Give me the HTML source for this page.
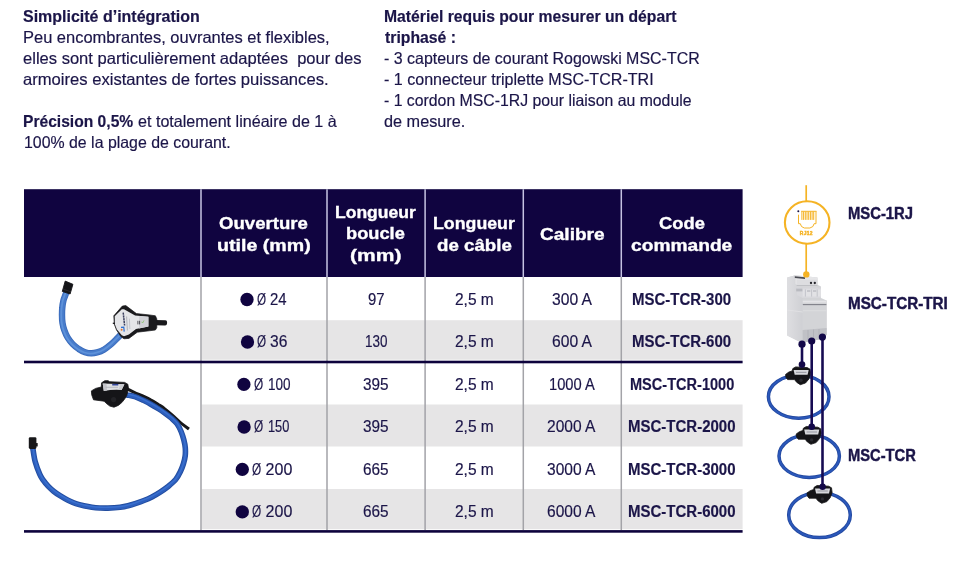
<!DOCTYPE html>
<html lang="fr">
<head>
<meta charset="utf-8">
<title>MSC-TCR</title>
<style>
html,body{margin:0;padding:0;background:#fff;}
body{width:974px;height:565px;position:relative;overflow:hidden;font-family:"Liberation Sans",sans-serif;color:#1b1548;}
.t{-webkit-text-stroke:0.18px #1b1548;position:absolute;white-space:nowrap;transform-origin:0 50%;line-height:20px;height:20px;}
.b{font-weight:bold;}
.d{-webkit-text-stroke:0.45px #1b1548;}
.w{color:#fff;-webkit-text-stroke:0.35px #fff;}
.box{position:absolute;}
.dot{position:absolute;width:13.4px;height:13.4px;border-radius:50%;background:#100440;}
</style>
</head>
<body>
<svg class="box" style="left:0;top:0;" width="974" height="565" viewBox="0 0 974 565">
<rect x="24" y="189.2" width="718.6" height="87.8" fill="#100440"/>
<g fill="#e6e5e6">
<rect x="201.6" y="320.2" width="541" height="39.5"/>
<rect x="201.6" y="404.5" width="541" height="42"/>
<rect x="201.6" y="489" width="541" height="40.2"/>
</g>
<g stroke="#c6c3e2" stroke-width="1.5"><path d="M201,189.2V277M327,189.2V277M425.1,189.2V277M523.3,189.2V277M621.3,189.2V277"/></g>
<g stroke="#a3a3a8" stroke-width="1.5"><path d="M201,277V530M327,277V530M425.1,277V530M523.3,277V530M621.3,277V530"/></g>
<rect x="24" y="360.7" width="718.6" height="2.6" fill="#0d033c"/>
<rect x="24" y="530.1" width="718.6" height="2.6" fill="#0d033c"/>
</svg>

<div class="t b" style="left:23.03px;top:6px;font-size:16.5px;transform:scaleX(0.9689);">Simplicité d’intégration</div>
<div class="t" style="left:23.30px;top:27px;font-size:16.5px;transform:scaleX(0.9980);">Peu encombrantes, ouvrantes et flexibles,</div>
<div class="t" style="left:23.30px;top:48px;font-size:16.5px;transform:scaleX(1.0030);">elles sont particulièrement adaptées&nbsp; pour des</div>
<div class="t" style="left:23.29px;top:69px;font-size:16.5px;transform:scaleX(1.0066);">armoires existantes de fortes puissances.</div>
<div class="t b" style="left:23.15px;top:111px;font-size:16.5px;transform:scaleX(0.9461);">Précision 0,5%</div>
<div class="t" style="left:138.12px;top:111px;font-size:16.5px;transform:scaleX(0.9759);">et totalement linéaire de 1 à</div>
<div class="t" style="left:23.64px;top:132px;font-size:16.5px;transform:scaleX(0.9627);">100% de la plage de courant.</div>
<div class="t b" style="left:383.75px;top:6px;font-size:16.5px;transform:scaleX(0.9523);">Matériel requis pour mesurer un départ</div>
<div class="t b" style="left:384.70px;top:27px;font-size:16.5px;transform:scaleX(0.9548);">triphasé :</div>
<div class="t" style="left:383.73px;top:48px;font-size:16.5px;transform:scaleX(0.9670);">- 3 capteurs de courant Rogowski MSC-TCR</div>
<div class="t" style="left:383.73px;top:69px;font-size:16.5px;transform:scaleX(0.9737);">- 1 connecteur triplette MSC-TCR-TRI</div>
<div class="t" style="left:383.74px;top:90px;font-size:16.5px;transform:scaleX(0.9580);">- 1 cordon MSC-1RJ pour liaison au module</div>
<div class="t" style="left:383.71px;top:111px;font-size:16.5px;transform:scaleX(0.9850);">de mesure.</div>
<div class="t b w" style="left:219.27px;top:213px;font-size:16.5px;transform:scaleX(1.1260);">Ouverture</div>
<div class="t b w" style="left:216.81px;top:235px;font-size:16.5px;transform:scaleX(1.1883);">utile (mm)</div>
<div class="t b w" style="left:335.04px;top:202px;font-size:16.5px;transform:scaleX(1.0613);">Longueur</div>
<div class="t b w" style="left:346.09px;top:223px;font-size:16.5px;transform:scaleX(1.1058);">boucle</div>
<div class="t b w" style="left:350.13px;top:245px;font-size:16.5px;transform:scaleX(1.2744);">(mm)</div>
<div class="t b w" style="left:432.82px;top:213px;font-size:16.5px;transform:scaleX(1.0760);">Longueur</div>
<div class="t b w" style="left:436.77px;top:235px;font-size:16.5px;transform:scaleX(1.1344);">de câble</div>
<div class="t b w" style="left:540.14px;top:224px;font-size:16.5px;transform:scaleX(1.1556);">Calibre</div>
<div class="t b w" style="left:658.69px;top:213px;font-size:16.5px;transform:scaleX(1.1125);">Code</div>
<div class="t b w" style="left:630.94px;top:235px;font-size:16.5px;transform:scaleX(1.1628);">commande</div>
<div class="t b d" style="left:848.00px;top:203px;font-size:16.5px;transform:scaleX(0.8971);">MSC-1RJ</div>
<div class="t b d" style="left:848.18px;top:293px;font-size:16.5px;transform:scaleX(0.9226);">MSC-TCR-TRI</div>
<div class="t b d" style="left:848.01px;top:445px;font-size:16.5px;transform:scaleX(0.8920);">MSC-TCR</div>
<div class="t" style="left:256.77px;top:290px;font-size:16px;transform:scaleX(0.7273);">Ø</div>
<div class="t" style="left:270.07px;top:290px;font-size:16px;transform:scaleX(0.9294);">24</div>
<div class="t" style="left:367.77px;top:290px;font-size:16px;transform:scaleX(0.9313);">97</div>
<div class="t" style="left:454.63px;top:290px;font-size:16px;transform:scaleX(0.9684);">2,5 m</div>
<div class="t" style="left:551.52px;top:290px;font-size:16px;transform:scaleX(0.9775);">300 A</div>
<div class="t b" style="left:632.46px;top:290px;font-size:16px;transform:scaleX(0.9365);">MSC-TCR-300</div>
<div class="t" style="left:256.97px;top:332px;font-size:16px;transform:scaleX(0.7273);">Ø</div>
<div class="t" style="left:270.22px;top:332px;font-size:16px;transform:scaleX(0.9750);">36</div>
<div class="t" style="left:364.86px;top:332px;font-size:16px;transform:scaleX(0.8400);">130</div>
<div class="t" style="left:454.63px;top:332px;font-size:16px;transform:scaleX(0.9684);">2,5 m</div>
<div class="t" style="left:551.52px;top:332px;font-size:16px;transform:scaleX(0.9775);">600 A</div>
<div class="t b" style="left:632.46px;top:332px;font-size:16px;transform:scaleX(0.9365);">MSC-TCR-600</div>
<div class="t" style="left:253.66px;top:375px;font-size:16px;transform:scaleX(0.7364);">Ø</div>
<div class="t" style="left:268.26px;top:375px;font-size:16px;transform:scaleX(0.8440);">100</div>
<div class="t" style="left:363.04px;top:375px;font-size:16px;transform:scaleX(0.9600);">395</div>
<div class="t" style="left:454.63px;top:375px;font-size:16px;transform:scaleX(0.9684);">2,5 m</div>
<div class="t" style="left:548.98px;top:375px;font-size:16px;transform:scaleX(0.9184);">1000 A</div>
<div class="t b" style="left:629.89px;top:375px;font-size:16px;transform:scaleX(0.9088);">MSC-TCR-1000</div>
<div class="t" style="left:253.66px;top:417px;font-size:16px;transform:scaleX(0.7364);">Ø</div>
<div class="t" style="left:268.30px;top:417px;font-size:16px;transform:scaleX(0.8000);">150</div>
<div class="t" style="left:363.04px;top:417px;font-size:16px;transform:scaleX(0.9600);">395</div>
<div class="t" style="left:454.63px;top:417px;font-size:16px;transform:scaleX(0.9684);">2,5 m</div>
<div class="t" style="left:547.33px;top:417px;font-size:16px;transform:scaleX(0.9714);">2000 A</div>
<div class="t b" style="left:628.26px;top:417px;font-size:16px;transform:scaleX(0.9372);">MSC-TCR-2000</div>
<div class="t" style="left:252.06px;top:460px;font-size:16px;transform:scaleX(0.7364);">Ø</div>
<div class="t" style="left:265.60px;top:460px;font-size:16px;transform:scaleX(1.0000);">200</div>
<div class="t" style="left:363.04px;top:460px;font-size:16px;transform:scaleX(0.9600);">665</div>
<div class="t" style="left:454.63px;top:460px;font-size:16px;transform:scaleX(0.9684);">2,5 m</div>
<div class="t" style="left:547.33px;top:460px;font-size:16px;transform:scaleX(0.9714);">3000 A</div>
<div class="t b" style="left:628.26px;top:460px;font-size:16px;transform:scaleX(0.9372);">MSC-TCR-3000</div>
<div class="t" style="left:252.06px;top:502px;font-size:16px;transform:scaleX(0.7364);">Ø</div>
<div class="t" style="left:265.60px;top:502px;font-size:16px;transform:scaleX(1.0000);">200</div>
<div class="t" style="left:363.04px;top:502px;font-size:16px;transform:scaleX(0.9600);">665</div>
<div class="t" style="left:454.63px;top:502px;font-size:16px;transform:scaleX(0.9684);">2,5 m</div>
<div class="t" style="left:547.33px;top:502px;font-size:16px;transform:scaleX(0.9714);">6000 A</div>
<div class="t b" style="left:628.26px;top:502px;font-size:16px;transform:scaleX(0.9372);">MSC-TCR-6000</div>
<svg class="box" style="left:0;top:0;" width="974" height="565" viewBox="0 0 974 565">
<circle cx="247.00" cy="299.50" r="6.65" fill="#100440"/>
<circle cx="247.50" cy="342.00" r="6.65" fill="#100440"/>
<circle cx="243.90" cy="384.40" r="6.65" fill="#100440"/>
<circle cx="244.10" cy="427.00" r="6.65" fill="#100440"/>
<circle cx="242.30" cy="469.40" r="6.65" fill="#100440"/>
<circle cx="242.30" cy="511.90" r="6.65" fill="#100440"/>
<defs>
<linearGradient id="modL" x1="0" y1="0" x2="1" y2="0"><stop offset="0" stop-color="#dedee1"/><stop offset="1" stop-color="#cfd0d4"/></linearGradient>
</defs>
<!-- sensor 1 : small flexible loop -->
<g fill="none" stroke-linecap="butt" stroke-linejoin="round">
<path d="M66.2,292.5 C66.1,292.9 65.9,293.7 65.4,295.0 C65.0,296.3 64.0,298.2 63.5,300.3 C63.0,302.4 62.5,305.2 62.3,307.7 C62.0,310.1 62.0,312.4 62.0,315.0 C62.0,317.6 62.1,320.5 62.5,323.0 C62.9,325.5 63.4,327.7 64.3,330.1 C65.2,332.6 66.3,335.4 67.7,337.7 C69.1,340.0 70.9,342.2 72.7,344.1 C74.5,346.0 76.7,347.6 78.7,349.0 C80.8,350.4 82.9,351.5 85.0,352.2 C87.1,352.9 89.4,353.3 91.4,353.3 C93.4,353.3 95.0,353.0 97.1,352.4 C99.2,351.8 101.8,350.8 104.2,349.4 C106.6,348.0 109.0,346.1 111.2,344.2 C113.4,342.3 116.0,339.5 117.5,338.0 C119.0,336.5 119.9,335.5 120.4,335.0" stroke="#3869ba" stroke-width="6.4"/>
<path d="M66.2,292.5 C66.1,292.9 65.9,293.7 65.4,295.0 C65.0,296.3 64.0,298.2 63.5,300.3 C63.0,302.4 62.5,305.2 62.3,307.7 C62.0,310.1 62.0,312.4 62.0,315.0 C62.0,317.6 62.1,320.5 62.5,323.0 C62.9,325.5 63.4,327.7 64.3,330.1 C65.2,332.6 66.3,335.4 67.7,337.7 C69.1,340.0 70.9,342.2 72.7,344.1 C74.5,346.0 76.7,347.6 78.7,349.0 C80.8,350.4 82.9,351.5 85.0,352.2 C87.1,352.9 89.4,353.3 91.4,353.3 C93.4,353.3 95.0,353.0 97.1,352.4 C99.2,351.8 101.8,350.8 104.2,349.4 C106.6,348.0 109.0,346.1 111.2,344.2 C113.4,342.3 116.0,339.5 117.5,338.0 C119.0,336.5 119.9,335.5 120.4,335.0" stroke="#487ccb" stroke-width="4.8"/>
<path d="M66.2,292.5 C66.1,292.9 65.9,293.7 65.4,295.0 C65.0,296.3 64.0,298.2 63.5,300.3 C63.0,302.4 62.5,305.2 62.3,307.7 C62.0,310.1 62.0,312.4 62.0,315.0 C62.0,317.6 62.1,320.5 62.5,323.0 C62.9,325.5 63.4,327.7 64.3,330.1 C65.2,332.6 66.3,335.4 67.7,337.7 C69.1,340.0 70.9,342.2 72.7,344.1 C74.5,346.0 76.7,347.6 78.7,349.0 C80.8,350.4 82.9,351.5 85.0,352.2 C87.1,352.9 89.4,353.3 91.4,353.3 C93.4,353.3 95.0,353.0 97.1,352.4 C99.2,351.8 101.8,350.8 104.2,349.4 C106.6,348.0 109.0,346.1 111.2,344.2 C113.4,342.3 116.0,339.5 117.5,338.0 C119.0,336.5 119.9,335.5 120.4,335.0" stroke="#5e92da" stroke-width="1.8" transform="translate(-0.7,0.3)"/>
</g>
<!-- end cap -->
<path d="M65.2,281.1 L72.9,284.3 L70.1,294 L62.3,291.4 Z" fill="#151518" stroke="#151518" stroke-width="0.9" stroke-linejoin="round"/>
<path d="M63.2,289.2 L70.8,291.8" stroke="#34343a" stroke-width="0.7" fill="none"/>
<!-- connector body -->
<path d="M155,319.9 L165.4,320.2 Q167.2,320.4 167.1,322.2 L167,323.8 Q166.8,325.6 165,325.5 L155,325.2 Z" fill="#19191c"/>
<path d="M113.8,315.8 L122.3,306.1 L125.8,305.6 L136.4,313.6 L149.2,314.9 L155.4,315.8 L156.8,318.9 L156.8,327.7 L155.4,330 L149.2,330.8 L137.3,332.2 L128.9,338.4 L124,338.8 L120.9,336.6 L116.5,330 L114.3,324.2 Z" fill="#1a1a1d" stroke="#1a1a1d" stroke-width="0.7" stroke-linejoin="round"/>
<path d="M114.7,316.2 L121.8,309.2 L124,309.2 L135.1,315.4 L148.4,316.7 L148.4,326.4 L136,329.1 L128.9,334.4 L124,336.2 L121.8,335.3 L116.9,329.5 L114.9,324.2 Z" fill="#e4e5e8"/>
<path d="M139,316 L148.4,316.7 L148.4,326.4 L139,328.4 Z" fill="#d2d3d8"/>
<path d="M123.2,312.6 L124.6,325.5" stroke="#3b3f5e" stroke-width="1.5" fill="none" stroke-dasharray="2.2 0.6"/>
<path d="M126.6,316.5 L127.4,330.5" stroke="#9a9ca8" stroke-width="0.7" fill="none"/>
<path d="M129.4,318.6 L129.9,329" stroke="#b0b2bc" stroke-width="0.6" fill="none"/>
<path d="M121,327.4 L123.8,327.2 L124.2,331.6" stroke="#2f6fd0" stroke-width="1.2" fill="none"/>
<circle cx="121.6" cy="329.8" r="1" fill="#e8742a"/>
<path d="M137.9,320.8 V324.4 M139.6,320.8 V324.4" stroke="#2c2c34" stroke-width="0.8" fill="none"/>
<path d="M141.6,321.8 L142.6,323 L144,320.4" stroke="#86c36a" stroke-width="0.8" fill="none"/>
<path d="M112.8,323.3 H115" stroke="#1a1a1d" stroke-width="1.3"/>

<!-- sensor 2 : large loop -->
<g fill="none" stroke-linecap="butt">
<path d="M126.5,388.2 C126.8,388.3 126.7,388.1 128.1,388.8 C129.5,389.5 132.4,391.0 134.9,392.1 C137.4,393.2 140.2,394.3 142.9,395.5 C145.6,396.7 148.2,397.9 150.8,399.4 C153.5,400.8 156.4,402.7 158.8,404.2 C161.2,405.7 162.5,406.4 165.0,408.4 C167.5,410.3 171.1,413.4 173.9,415.9 C176.7,418.3 179.2,421.0 181.8,423.1 C184.4,425.2 188.0,427.7 189.2,428.6" stroke="#17171a" stroke-width="3.1" transform="translate(-0.2,0.5)"/>
<path d="M124.5,394.5 C124.9,394.6 125.2,394.5 126.9,394.9 C128.6,395.3 132.2,395.8 134.9,396.7 C137.6,397.6 140.2,398.9 142.9,400.1 C145.6,401.4 148.2,402.7 150.8,404.2 C153.5,405.7 156.4,407.5 158.8,409.0 C161.2,410.5 162.9,411.7 165.0,413.2 C167.1,414.7 169.2,416.2 171.2,418.0 C173.2,419.8 175.4,421.6 177.1,423.9 C178.8,426.2 180.1,429.1 181.2,431.8 C182.3,434.5 183.1,437.1 183.8,439.8 C184.5,442.5 185.1,445.3 185.3,448.0 C185.5,450.7 185.5,453.2 185.2,455.9 C184.9,458.5 184.2,461.2 183.4,463.9 C182.6,466.5 181.6,469.1 180.3,471.8 C179.0,474.5 177.6,477.3 175.5,479.8 C173.4,482.3 170.4,484.6 167.8,486.7 C165.2,488.8 162.5,490.6 159.8,492.3 C157.2,494.0 154.6,495.5 151.9,496.9 C149.2,498.3 146.6,499.4 143.9,500.5 C141.2,501.6 138.6,502.5 135.9,503.4 C133.2,504.3 130.7,505.1 128.0,505.8 C125.3,506.5 123.4,506.9 120.0,507.3 C116.6,507.7 111.2,508.0 107.8,508.1 C104.4,508.2 102.4,508.1 99.8,508.0 C97.2,507.9 94.6,507.7 91.9,507.3 C89.2,506.9 86.6,506.4 83.9,505.8 C81.2,505.2 78.6,504.6 75.9,503.7 C73.2,502.8 70.7,501.6 68.0,500.3 C65.3,499.0 62.4,497.2 60.0,495.7 C57.6,494.2 55.6,492.8 53.6,491.2 C51.6,489.6 49.8,488.0 48.1,486.2 C46.4,484.4 44.6,482.2 43.2,480.2 C41.8,478.2 41.0,477.2 39.7,474.2 C38.4,471.2 36.4,466.1 35.3,462.1 C34.2,458.1 33.5,452.4 33.1,450.1 C32.7,447.8 32.8,448.8 32.8,448.5" stroke="#234d9f" stroke-width="5.6"/>
<path d="M124.5,394.5 C124.9,394.6 125.2,394.5 126.9,394.9 C128.6,395.3 132.2,395.8 134.9,396.7 C137.6,397.6 140.2,398.9 142.9,400.1 C145.6,401.4 148.2,402.7 150.8,404.2 C153.5,405.7 156.4,407.5 158.8,409.0 C161.2,410.5 162.9,411.7 165.0,413.2 C167.1,414.7 169.2,416.2 171.2,418.0 C173.2,419.8 175.4,421.6 177.1,423.9 C178.8,426.2 180.1,429.1 181.2,431.8 C182.3,434.5 183.1,437.1 183.8,439.8 C184.5,442.5 185.1,445.3 185.3,448.0 C185.5,450.7 185.5,453.2 185.2,455.9 C184.9,458.5 184.2,461.2 183.4,463.9 C182.6,466.5 181.6,469.1 180.3,471.8 C179.0,474.5 177.6,477.3 175.5,479.8 C173.4,482.3 170.4,484.6 167.8,486.7 C165.2,488.8 162.5,490.6 159.8,492.3 C157.2,494.0 154.6,495.5 151.9,496.9 C149.2,498.3 146.6,499.4 143.9,500.5 C141.2,501.6 138.6,502.5 135.9,503.4 C133.2,504.3 130.7,505.1 128.0,505.8 C125.3,506.5 123.4,506.9 120.0,507.3 C116.6,507.7 111.2,508.0 107.8,508.1 C104.4,508.2 102.4,508.1 99.8,508.0 C97.2,507.9 94.6,507.7 91.9,507.3 C89.2,506.9 86.6,506.4 83.9,505.8 C81.2,505.2 78.6,504.6 75.9,503.7 C73.2,502.8 70.7,501.6 68.0,500.3 C65.3,499.0 62.4,497.2 60.0,495.7 C57.6,494.2 55.6,492.8 53.6,491.2 C51.6,489.6 49.8,488.0 48.1,486.2 C46.4,484.4 44.6,482.2 43.2,480.2 C41.8,478.2 41.0,477.2 39.7,474.2 C38.4,471.2 36.4,466.1 35.3,462.1 C34.2,458.1 33.5,452.4 33.1,450.1 C32.7,447.8 32.8,448.8 32.8,448.5" stroke="#2d5fbd" stroke-width="3.8"/>
<path d="M124.5,394.5 C124.9,394.6 125.2,394.5 126.9,394.9 C128.6,395.3 132.2,395.8 134.9,396.7 C137.6,397.6 140.2,398.9 142.9,400.1 C145.6,401.4 148.2,402.7 150.8,404.2 C153.5,405.7 156.4,407.5 158.8,409.0 C161.2,410.5 162.9,411.7 165.0,413.2 C167.1,414.7 169.2,416.2 171.2,418.0 C173.2,419.8 175.4,421.6 177.1,423.9 C178.8,426.2 180.1,429.1 181.2,431.8 C182.3,434.5 183.1,437.1 183.8,439.8 C184.5,442.5 185.1,445.3 185.3,448.0 C185.5,450.7 185.5,453.2 185.2,455.9 C184.9,458.5 184.2,461.2 183.4,463.9 C182.6,466.5 181.6,469.1 180.3,471.8 C179.0,474.5 177.6,477.3 175.5,479.8 C173.4,482.3 170.4,484.6 167.8,486.7 C165.2,488.8 162.5,490.6 159.8,492.3 C157.2,494.0 154.6,495.5 151.9,496.9 C149.2,498.3 146.6,499.4 143.9,500.5 C141.2,501.6 138.6,502.5 135.9,503.4 C133.2,504.3 130.7,505.1 128.0,505.8 C125.3,506.5 123.4,506.9 120.0,507.3 C116.6,507.7 111.2,508.0 107.8,508.1 C104.4,508.2 102.4,508.1 99.8,508.0 C97.2,507.9 94.6,507.7 91.9,507.3 C89.2,506.9 86.6,506.4 83.9,505.8 C81.2,505.2 78.6,504.6 75.9,503.7 C73.2,502.8 70.7,501.6 68.0,500.3 C65.3,499.0 62.4,497.2 60.0,495.7 C57.6,494.2 55.6,492.8 53.6,491.2 C51.6,489.6 49.8,488.0 48.1,486.2 C46.4,484.4 44.6,482.2 43.2,480.2 C41.8,478.2 41.0,477.2 39.7,474.2 C38.4,471.2 36.4,466.1 35.3,462.1 C34.2,458.1 33.5,452.4 33.1,450.1 C32.7,447.8 32.8,448.8 32.8,448.5" stroke="#3a70cf" stroke-width="1.4" transform="translate(0.2,-0.8)"/>
</g>
<rect x="28.8" y="437.3" width="7.6" height="11.6" rx="1.3" fill="#17171a"/>
<rect x="35.8" y="443" width="1.9" height="3.6" rx="0.5" fill="#17171a"/>
<path d="M91.4,390.9 L95.6,388.4 L101.3,387 L101.6,382.8 L104.8,380.7 L108.4,380.7 L109.4,381.7 L124.6,382.4 L127.8,384.2 L128.5,388.4 L126.8,395.5 L124.6,399.1 L121.8,402.6 L118.3,405.4 L114,407.2 L109.8,406.1 L106.2,403.3 L104.1,401.2 L93.5,399.8 L91.7,394.8 Z" fill="#151518" stroke="#151518" stroke-width="0.8" stroke-linejoin="round"/>
<path d="M102.7,383.5 L124.4,384.2 L121.6,390.0 Q112.5,389.4 103.8,390.9 Z" fill="#dedfe2"/>
<path d="M102.7,383.5 L106.5,383.7 L107,390.4 L103.8,390.9 Z" fill="#c4c5ca"/>
<path d="M120.5,384.1 L124.4,384.2 L121.6,390.0 L118.6,389.8 Z" fill="#c9cacf"/>
<path d="M112.2,384.7 H118.3" stroke="#35469a" stroke-width="1.6" fill="none"/>
<path d="M105.6,387.3 H118" stroke="#a9aab2" stroke-width="0.7" fill="none"/>
<circle cx="113.6" cy="399.6" r="2.6" fill="#222226"/>

<!-- right diagram -->
<g fill="none" stroke="#f5b324">
<path d="M806.2,185.2 V201" stroke-width="1.7"/>
<path d="M806.2,243.5 V274" stroke-width="1.7"/>
<ellipse cx="807.2" cy="222.5" rx="22.3" ry="21.2" stroke-width="2.1"/>
<g transform="translate(0.5,0.5)"><path d="M798.0,214.2 V223.2 H799.8 L801,226 L803.8,227.5 H809.4 L812.4,226 L813.6,223.2 H815.5 V210.8" stroke-width="1" stroke-linejoin="round"/>
<path d="M801.4,211 V219.4 M803.1,211 V219.4 M804.8,211 V219.4 M806.5,211 V219.4 M808.2,211 V219.4 M809.9,211 V219.4 M811.6,211 V219.4 M813.2,211 V219.4" stroke-width="1"/>
<path d="M800.6,210.8 H816" stroke-width="1"/></g>
</g>
<circle cx="798.3" cy="211.3" r="1" fill="#1b1548"/>
<text x="806.4" y="234.7" font-family="Liberation Sans, sans-serif" font-weight="bold" font-size="4.9" text-anchor="middle" fill="#f5b324" stroke="#f5b324" stroke-width="0.45" letter-spacing="0.35">RJ12</text>

<!-- DIN module -->
<path d="M787.2,277.6 L795.4,275.2 L817.5,277.6 L817.5,284.8 L821,286.5 L821,298 L826.6,300.4 L826.6,334.3 L824.6,338.2 L802,343 L787.2,335.6 Z" fill="#d2d3d6"/>
<path d="M787.2,277.6 L795.4,275.2 L795.4,284 L802.6,287 L802.6,342.8 L802,343 L787.2,335.6 Z" fill="url(#modL)"/>
<path d="M795.4,275.2 L817.5,277.6 L817.5,284.8 L797,284.8 L795.4,284 Z" fill="#e6e6e8"/>
<path d="M794.8,276.3 L805,277.3 L805,279 L794.8,278.1 Z" fill="#4a4b52"/>
<path d="M796.6,279.4 L817.5,279.8 L817.5,286.6 L796.6,286.6 Z" fill="#dddde0"/>
<path d="M796.6,285.6 H817.5" stroke="#b9bac0" stroke-width="0.9" fill="none"/>
<circle cx="811.0" cy="283" r="1.15" fill="#25252b"/><circle cx="814.8" cy="283" r="1.15" fill="#25252b"/>
<path d="M796.8,287.4 L821,287.4 L821,298 L802.6,298 L796.8,295 Z" fill="#d8d8dc"/>
<path d="M802.6,289.4 H820.8 V296.6 H802.6 Z" fill="#e2e2e5"/>
<path d="M805.4,289.4 V296.6 M811.6,289.4 V296.6 M817.2,289.4 V296.6" stroke="#c0c1c7" stroke-width="0.9" fill="none"/>
<path d="M807,291 H810.4 M813,291 H816.2" stroke="#a4a5ad" stroke-width="0.9" fill="none"/>
<path d="M796.2,288.6 H802.4 V291.4 H796.2 Z" fill="#b9bac0"/>
<path d="M802.6,298.4 L826.6,300.4 L826.6,334.3 L824.6,338.2 L802.6,342.8 Z" fill="#d3d4d7"/>
<path d="M802.8,304.6 H826.4" stroke="#7f8088" stroke-width="1.1" fill="none"/>
<path d="M802.8,301.6 H826.4" stroke="#e4e4e7" stroke-width="1.8" fill="none"/>
<path d="M802.8,310.8 H826.4" stroke="#dfdfe2" stroke-width="0.8" fill="none"/>
<path d="M802.6,330 L826.6,328 L826.6,334.3 L824.6,338.2 L802.6,342.8 Z" fill="#c0c1c6"/>
<path d="M808,330 V341.4 M813.5,329.5 V340.2 M819,329 V339" stroke="#adaeb5" stroke-width="0.8" fill="none"/>
<path d="M787.2,310 L802.6,312" stroke="#e2e2e5" stroke-width="0.8" fill="none"/>
<circle cx="806.3" cy="274.4" r="3.2" fill="#f5b324"/>

<!-- rings -->
<g fill="none">
<ellipse cx="798.7" cy="396.7" rx="30.3" ry="21.5" stroke="#23489f" stroke-width="3.5"/>
<ellipse cx="798.7" cy="396.7" rx="30.3" ry="21.5" stroke="#2b58ba" stroke-width="1.9"/>
<ellipse cx="809.2" cy="456.1" rx="30.2" ry="21.3" stroke="#23489f" stroke-width="3.5"/>
<ellipse cx="809.2" cy="456.1" rx="30.2" ry="21.3" stroke="#2b58ba" stroke-width="1.9"/>
<ellipse cx="819.5" cy="515" rx="30.8" ry="22.6" stroke="#23489f" stroke-width="3.5"/>
<ellipse cx="819.5" cy="515" rx="30.8" ry="22.6" stroke="#2b58ba" stroke-width="1.9"/>
</g>
<!-- connectors on rings -->
<g>
<path d="M785.6,374.4 L788.8,372.1 L792.2,370.9 L792.8,368.6 L795.7,366.9 L800.3,367.2 L807.2,367.6 L810.1,369.2 L810.7,373.8 L808.9,379 L805.5,383 L800.3,384.7 L796.8,382.4 L794.5,379.6 L787.6,379.6 L785.9,377.3 Z" fill="#141417" stroke="#141417" stroke-width="0.8" stroke-linejoin="round"/>
<path d="M793.6,370 L808.7,370 L807.6,374.8 L794.7,374.8 Z" fill="#d6d7db"/>
<path d="M796,372.4 H806.4" stroke="#9fa0a8" stroke-width="1.2" fill="none"/>
<circle cx="801" cy="380.3" r="1.7" fill="#2a2a30"/>
</g>
<g transform="translate(10.6,59.6)">
<path d="M785.6,374.4 L788.8,372.1 L792.2,370.9 L792.8,368.6 L795.7,366.9 L800.3,367.2 L807.2,367.6 L810.1,369.2 L810.7,373.8 L808.9,379 L805.5,383 L800.3,384.7 L796.8,382.4 L794.5,379.6 L787.6,379.6 L785.9,377.3 Z" fill="#141417" stroke="#141417" stroke-width="0.8" stroke-linejoin="round"/>
<path d="M793.6,370 L808.7,370 L807.6,374.8 L794.7,374.8 Z" fill="#d6d7db"/>
<path d="M796,372.4 H806.4" stroke="#9fa0a8" stroke-width="1.2" fill="none"/>
<circle cx="801" cy="380.3" r="1.7" fill="#2a2a30"/>
</g>
<g transform="translate(21.4,118.6)">
<path d="M785.6,374.4 L788.8,372.1 L792.2,370.9 L792.8,368.6 L795.7,366.9 L800.3,367.2 L807.2,367.6 L810.1,369.2 L810.7,373.8 L808.9,379 L805.5,383 L800.3,384.7 L796.8,382.4 L794.5,379.6 L787.6,379.6 L785.9,377.3 Z" fill="#141417" stroke="#141417" stroke-width="0.8" stroke-linejoin="round"/>
<path d="M793.6,370 L808.7,370 L807.6,374.8 L794.7,374.8 Z" fill="#d6d7db"/>
<path d="M796,372.4 H806.4" stroke="#9fa0a8" stroke-width="1.2" fill="none"/>
<circle cx="801" cy="380.3" r="1.7" fill="#2a2a30"/>
</g>
<!-- navy links -->
<g stroke="#160b52" stroke-width="2.6" fill="none">
<path d="M802,344 V364.6"/><path d="M811.7,341 V426.7"/><path d="M822.5,337.2 V486.8"/>
</g>
<g fill="#130848">
<circle cx="802" cy="344.2" r="3.6"/><circle cx="811.7" cy="341" r="3.6"/><circle cx="822.4" cy="337.1" r="3.6"/>
<circle cx="802" cy="364.6" r="3.3"/><circle cx="811.7" cy="426.7" r="3.3"/><circle cx="822.6" cy="486.8" r="3.2"/>
</g>

</svg>
</body>
</html>
